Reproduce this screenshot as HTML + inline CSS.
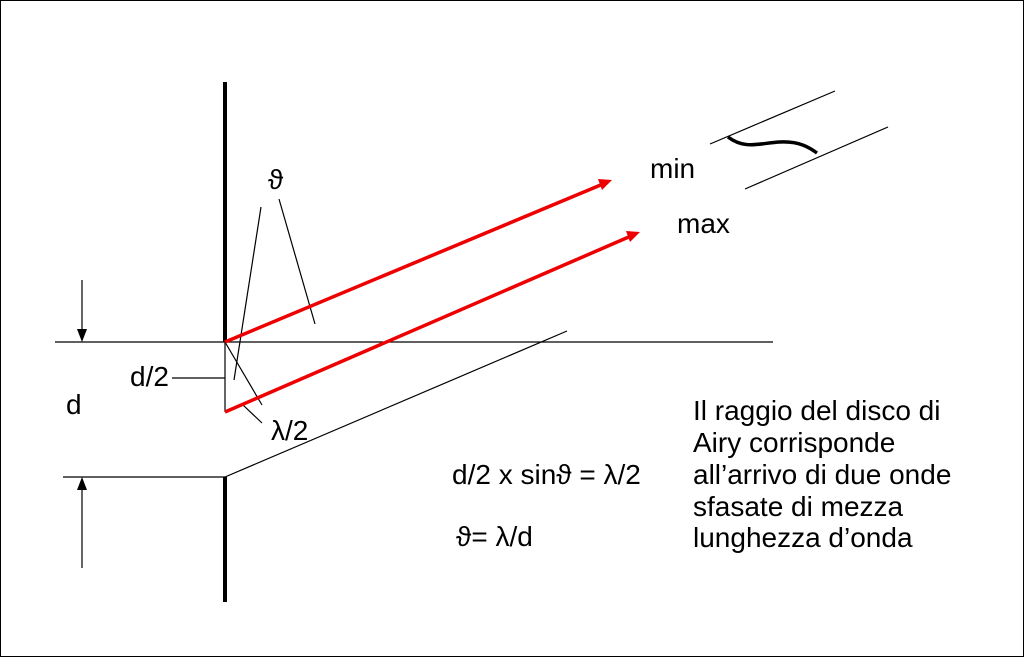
<!DOCTYPE html>
<html><head><style>html,body{margin:0;padding:0;background:#fff}svg{display:block}</style></head>
<body>
<svg width="1024" height="657" viewBox="0 0 1024 657" xmlns="http://www.w3.org/2000/svg" font-family="Liberation Sans, DejaVu Sans, sans-serif">
<rect x="0.5" y="0.5" width="1023" height="656" fill="#fff" stroke="#000" stroke-width="1"/>
<g stroke="#000" fill="none">
<line x1="225" y1="82" x2="225" y2="342" stroke-width="4"/>
<line x1="225" y1="477" x2="225" y2="602" stroke-width="4"/>
<line x1="55" y1="342" x2="773" y2="342" stroke-width="1.2"/>
<line x1="63" y1="477" x2="225" y2="477" stroke-width="1.2"/>
<line x1="225" y1="477" x2="567" y2="331" stroke-width="1.2"/>
<line x1="225" y1="342" x2="225" y2="412" stroke-width="1.2"/>
<line x1="172" y1="378" x2="225" y2="378" stroke-width="1.2"/>
<path d="M82,280 L82,330" stroke-width="1.2"/><path d="M77,329 L87,329 L82,342 z" fill="#000" stroke="none"/>
<path d="M82,568 L82,490" stroke-width="1.2"/><path d="M77,490 L87,490 L82,477 z" fill="#000" stroke="none"/>
<line x1="261" y1="207" x2="234" y2="380" stroke-width="1.2"/>
<line x1="279" y1="199" x2="315" y2="324" stroke-width="1.2"/>
<line x1="225" y1="342" x2="262" y2="405" stroke-width="1.2"/>
<line x1="243" y1="405" x2="262" y2="423" stroke-width="1.2"/>
<line x1="710" y1="144" x2="835" y2="91" stroke-width="1.2"/>
<line x1="745" y1="189" x2="888" y2="127" stroke-width="1.2"/>
<path d="M728,137 C745,150 760,143 780,142 C800,141 810,148 817,153" stroke-width="3.5"/>
</g>
<g stroke="#e00" stroke-width="3.5">
<line x1="225" y1="342" x2="603" y2="184"/>
<line x1="225" y1="412" x2="631" y2="236"/>
</g>
<path d="M612,180 L598,179 L602,190 z" fill="#e00"/>
<path d="M640,232 L626,231 L630,242 z" fill="#e00"/>
<g font-size="28" fill="#000">
<text x="268" y="189">ϑ</text>
<text x="650" y="178">min</text>
<text x="677" y="233">max</text>
<text x="130" y="386">d/2</text>
<text x="66" y="414">d</text>
<text x="271" y="440">λ/2</text>
<text x="452" y="484">d/2 x sinϑ = λ/2</text>
<text x="456" y="546">ϑ= λ/d</text>
<text x="693" y="420">Il raggio del disco di</text>
<text x="693" y="452">Airy corrisponde</text>
<text x="693" y="484">all’arrivo di due onde</text>
<text x="693" y="516">sfasate di mezza</text>
<text x="693" y="547">lunghezza d’onda</text>
</g>
</svg>
</body></html>
